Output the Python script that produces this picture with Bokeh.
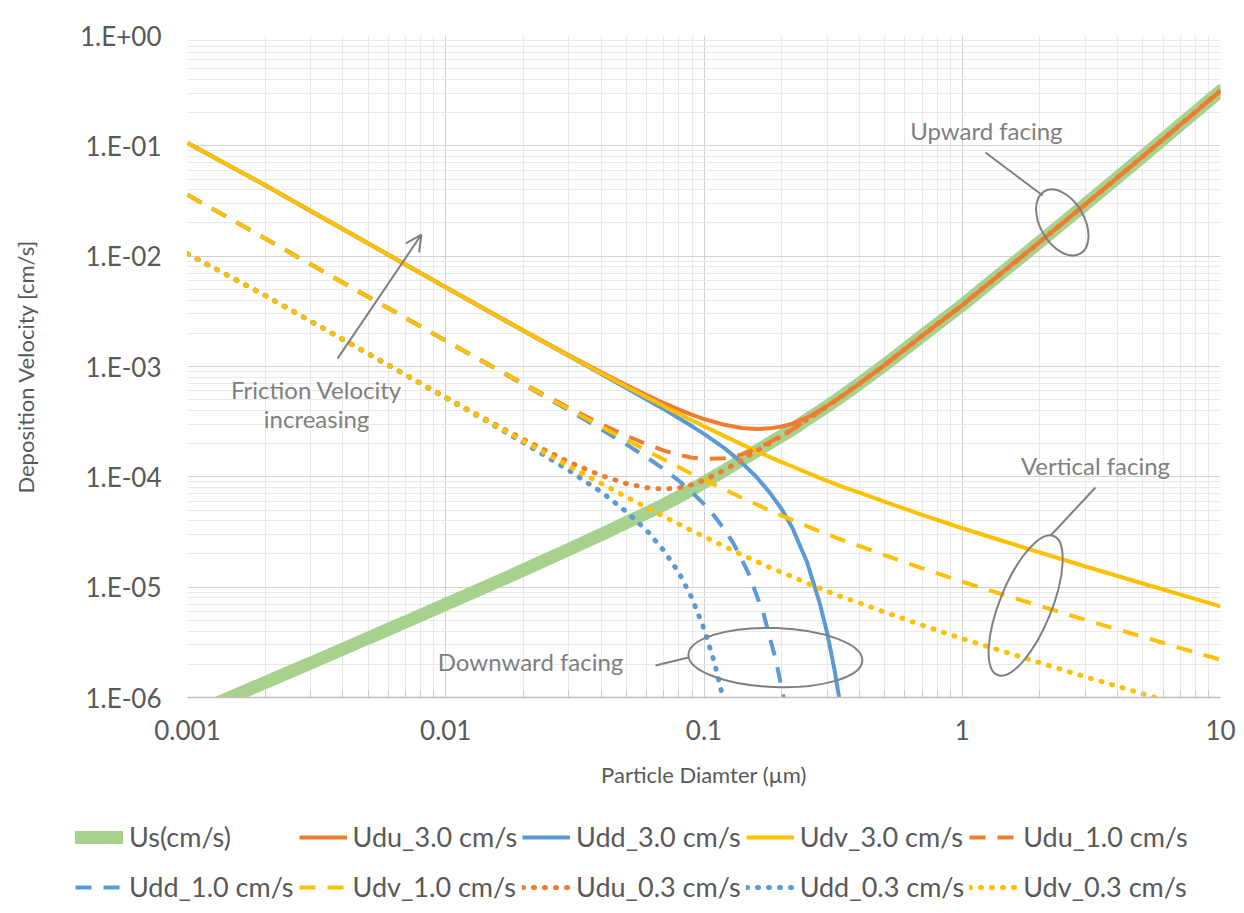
from bokeh.plotting import figure
from bokeh.layouts import column, row
from bokeh.models import (Range1d, FixedTicker, Legend, LegendItem, Label, Arrow,
                          OpenHead)
from bokeh.embed import file_html
from bokeh.resources import INLINE

# ---------------- data ----------------
d_um = [0.001, 0.002, 0.003, 0.005, 0.007, 0.01, 0.015, 0.02, 0.03, 0.04, 0.05, 0.06,
        0.07, 0.08, 0.09, 0.1, 0.12, 0.14, 0.16, 0.18, 0.2, 0.22, 0.25, 0.28, 0.3, 0.35,
        0.4, 0.5, 0.7, 1, 1.5, 2, 3, 5, 7, 10]

us = [6.8e-7, 1.37e-6, 2.05e-6, 3.45e-6, 4.85e-6, 7.0e-6, 1.06e-5, 1.43e-5, 2.2e-5, 3.0e-5,
      3.85e-5, 4.7e-5, 5.6e-5, 6.6e-5, 7.7e-5, 8.9e-5, 1.14e-4, 1.42e-4, 1.72e-4, 2.03e-4,
      2.35e-4, 2.69e-4, 3.3e-4, 3.92e-4, 4.35e-4, 5.6e-4, 7.0e-4, 1.03e-3, 1.9e-3, 3.6e-3,
      7.8e-3, 0.0135, 0.0295, 0.080, 0.156, 0.315]

udu_30 = [0.106, 0.0440, 0.0257, 0.0131, 8.38e-3, 5.24e-3, 3.08e-3, 2.117e-3, 1.264e-3, 8.85e-4,
          6.78e-4, 5.50e-4, 4.65e-4, 4.06e-4, 3.64e-4, 3.34e-4, 2.96e-4, 2.77e-4, 2.71e-4, 2.75e-4,
          2.86e-4, 3.03e-4, 3.44e-4, 3.99e-4, 4.39e-4, 5.6e-4, 7.0e-4, 1.03e-3, 1.9e-3, 3.6e-3,
          7.8e-3, 0.0135, 0.0295, 0.080, 0.156, 0.315]

udv_30 = [0.106, 0.0440, 0.0257, 0.0131, 8.37e-3, 5.23e-3, 3.07e-3, 2.11e-3, 1.25e-3, 8.70e-4,
          6.58e-4, 5.26e-4, 4.36e-4, 3.72e-4, 3.24e-4, 2.87e-4, 2.34e-4, 1.97e-4, 1.71e-4, 1.51e-4,
          1.36e-4, 1.24e-4, 1.09e-4, 9.8e-5, 9.2e-5, 8.0e-5, 7.2e-5, 5.95e-5, 4.52e-5, 3.42e-5,
          2.54e-5, 2.06e-5, 1.54e-5, 1.08e-5, 8.55e-6, 6.7e-6]

udu_10 = [0.0360, 0.01444, 8.43e-3, 4.28e-3, 2.75e-3, 1.714e-3, 1.015e-3, 7.0e-4, 4.22e-4, 3.0e-4,
          2.36e-4, 1.976e-4, 1.728e-4, 1.58e-4, 1.491e-4, 1.456e-4, 1.472e-4, 1.598e-4, 1.804e-4,
          2.064e-4, 2.362e-4, 2.69e-4, 3.3e-4, 3.92e-4, 4.35e-4, 5.6e-4, 7.0e-4, 1.03e-3, 1.9e-3,
          3.6e-3, 7.8e-3, 0.0135, 0.0295, 0.080, 0.156, 0.315]

udv_10 = [0.0360, 0.01444, 8.43e-3, 4.28e-3, 2.75e-3, 1.71e-3, 1.01e-3, 6.93e-4, 4.11e-4, 2.85e-4,
          2.16e-4, 1.73e-4, 1.43e-4, 1.22e-4, 1.06e-4, 9.42e-5, 7.66e-5, 6.47e-5, 5.61e-5, 4.96e-5,
          4.45e-5, 4.05e-5, 3.58e-5, 3.21e-5, 3.01e-5, 2.63e-5, 2.36e-5, 1.95e-5, 1.48e-5, 1.12e-5,
          8.3e-6, 6.75e-6, 5.05e-6, 3.55e-6, 2.8e-6, 2.2e-6]

udu_03 = [0.0105, 4.40e-3, 2.57e-3, 1.313e-3, 8.39e-4, 5.265e-4, 3.123e-4, 2.182e-4, 1.363e-4,
          1.028e-4, 8.69e-5, 7.96e-5, 7.74e-5, 7.95e-5, 8.49e-5, 9.32e-5, 1.149e-4, 1.42e-4,
          1.72e-4, 2.03e-4, 2.35e-4, 2.69e-4, 3.3e-4, 3.92e-4, 4.35e-4, 5.6e-4, 7.0e-4, 1.03e-3,
          1.9e-3, 3.6e-3, 7.8e-3, 0.0135, 0.0295, 0.080, 0.156, 0.315]

udv_03 = [0.0105, 4.40e-3, 2.57e-3, 1.31e-3, 8.37e-4, 5.23e-4, 3.07e-4, 2.11e-4, 1.25e-4, 8.7e-5,
          6.58e-5, 5.26e-5, 4.36e-5, 3.72e-5, 3.24e-5, 2.87e-5, 2.34e-5, 1.97e-5, 1.71e-5, 1.51e-5,
          1.36e-5, 1.24e-5, 1.09e-5, 9.8e-6, 9.2e-6, 8.0e-6, 7.2e-6, 5.95e-6, 4.52e-6, 3.42e-6,
          2.54e-6, 2.06e-6, 1.54e-6, 1.08e-6, 8.55e-7, 6.7e-7]

d_dd30 = [0.001, 0.002, 0.003, 0.005, 0.007, 0.01, 0.015, 0.02, 0.03, 0.04, 0.05, 0.06, 0.07,
          0.08, 0.09, 0.1, 0.12, 0.14, 0.16, 0.18, 0.2, 0.22, 0.25, 0.28, 0.3, 0.32, 0.34, 0.36]
udd_30 = [0.106, 0.0440, 0.0257, 0.0131, 8.36e-3, 5.22e-3, 3.06e-3, 2.103e-3, 1.242e-3, 8.55e-4,
          6.39e-4, 5.03e-4, 4.09e-4, 3.40e-4, 2.87e-4, 2.45e-4, 1.82e-4, 1.345e-4, 9.92e-5,
          7.16e-5, 5.08e-5, 3.44e-5, 1.71e-5, 7.30e-6, 3.84e-6, 1.79e-6, 7.7e-7, 3.0e-7]

d_dd10 = [0.001, 0.002, 0.003, 0.005, 0.007, 0.01, 0.015, 0.02, 0.03, 0.04, 0.05, 0.06, 0.07,
          0.08, 0.09, 0.1, 0.11, 0.12, 0.13, 0.14, 0.15, 0.16, 0.17, 0.18, 0.19, 0.2, 0.21, 0.22]
udd_10 = [0.0360, 0.01444, 8.43e-3, 4.28e-3, 2.75e-3, 1.71e-3, 1.005e-3, 6.86e-4, 4.00e-4,
          2.70e-4, 1.97e-4, 1.505e-4, 1.168e-4, 9.20e-5, 7.21e-5, 5.66e-5, 4.37e-5, 3.33e-5,
          2.49e-5, 1.78e-5, 1.28e-5, 8.41e-6, 5.76e-6, 3.45e-6, 2.18e-6, 1.20e-6, 6.8e-7, 3.5e-7]

d_dd03 = [0.001, 0.002, 0.003, 0.005, 0.007, 0.01, 0.015, 0.02, 0.03, 0.04, 0.05, 0.06, 0.07,
          0.08, 0.09, 0.1, 0.11, 0.12, 0.13]
udd_03 = [0.0105, 4.40e-3, 2.57e-3, 1.307e-3, 8.33e-4, 5.195e-4, 3.017e-4, 2.039e-4, 1.143e-4,
          7.29e-5, 4.84e-5, 3.26e-5, 2.14e-5, 1.348e-5, 7.88e-6, 4.19e-6, 2.03e-6, 8.8e-7, 3.4e-7]

series_names = ["Us(cm/s)", "Udu_3.0 cm/s", "Udd_3.0 cm/s", "Udv_3.0 cm/s", "Udu_1.0 cm/s",
                "Udd_1.0 cm/s", "Udv_1.0 cm/s", "Udu_0.3 cm/s", "Udd_0.3 cm/s", "Udv_0.3 cm/s"]

x_tick_values = [0.001, 0.01, 0.1, 1, 10]
x_tick_labels = ["0.001", "0.01", "0.1", "1", "10"]
y_tick_values = [1e-6, 1e-5, 1e-4, 1e-3, 1e-2, 1e-1, 1.0]
y_tick_labels = ["1.E-06", "1.E-05", "1.E-04", "1.E-03", "1.E-02", "1.E-01", "1.E+00"]

x_title = "Particle Diamter (µm)"
y_title = "Deposition Velocity [cm/s]"

# ---------------- styling ----------------
FONT = "Lato"
GREEN = "#A9D18E"
ORANGE = "#ED7D31"
BLUE = "#5B9BD5"
GOLD = "#FFC000"
GREY = "#808080"
TXT = "#595959"
DASH = "16 12"
DOT = "1 10"
LW = 4

styles = [
    dict(line_color=GREEN, line_width=13, line_cap="round"),
    dict(line_color=ORANGE, line_width=LW),
    dict(line_color=BLUE, line_width=LW),
    dict(line_color=GOLD, line_width=LW),
    dict(line_color=ORANGE, line_width=LW, line_dash=DASH),
    dict(line_color=BLUE, line_width=LW, line_dash=DASH),
    dict(line_color=GOLD, line_width=LW, line_dash=DASH),
    dict(line_color=ORANGE, line_width=5, line_dash=DOT, line_cap="round"),
    dict(line_color=BLUE, line_width=5, line_dash=DOT, line_cap="round"),
    dict(line_color=GOLD, line_width=5, line_dash=DOT, line_cap="round"),
]

p = figure(width=1240, height=810, x_axis_type="log", y_axis_type="log",
           x_range=Range1d(0.001, 10), y_range=Range1d(1e-6, 1),
           output_backend="svg", toolbar_location=None,
           min_border_left=187, min_border_right=20, min_border_top=35, min_border_bottom=113)
p.outline_line_color = None
p.background_fill_color = "white"
p.border_fill_color = "white"

x_minor = [k * dec for dec in [0.001, 0.01, 0.1, 1] for k in range(2, 10)]
y_minor = [k * dec for dec in [1e-6, 1e-5, 1e-4, 1e-3, 1e-2, 1e-1] for k in range(2, 10)]

p.xaxis.ticker = FixedTicker(ticks=x_tick_values, minor_ticks=x_minor)
p.yaxis.ticker = FixedTicker(ticks=y_tick_values, minor_ticks=y_minor)
p.xgrid.ticker = FixedTicker(ticks=x_tick_values, minor_ticks=x_minor)
p.ygrid.ticker = FixedTicker(ticks=y_tick_values, minor_ticks=y_minor)
for g in (p.xgrid, p.ygrid):
    g.grid_line_color = "#d0d0d0"
    g.grid_line_width = 1
    g.minor_grid_line_color = "#e9e9e9"
    g.minor_grid_line_width = 1

p.xaxis.major_label_overrides = dict(zip(x_tick_values, x_tick_labels))
p.yaxis.major_label_overrides = dict(zip(y_tick_values, y_tick_labels))

for ax in (p.xaxis, p.yaxis):
    ax.major_label_text_font = FONT
    ax.major_label_text_font_size = "26px"
    ax.major_label_text_color = TXT
    ax.axis_label_text_font = FONT
    ax.axis_label_text_font_size = "22px"
    ax.axis_label_text_font_style = "normal"
    ax.axis_label_text_color = TXT
    ax.major_tick_in = 0
    ax.major_tick_out = 0

p.xaxis.axis_label = x_title
p.yaxis.axis_label = y_title
p.xaxis.axis_line_color = "#bfbfbf"
p.xaxis.axis_line_width = 1.5
p.xaxis.minor_tick_in = 7
p.xaxis.minor_tick_out = 0
p.xaxis.minor_tick_line_color = "#c8c8c8"
p.xaxis.major_label_standoff = 22
p.xaxis.axis_label_standoff = 18
p.yaxis.axis_line_color = None
p.yaxis.minor_tick_line_color = None
p.yaxis.major_tick_line_color = None
p.yaxis.major_label_standoff = 22
p.yaxis.axis_label_standoff = 38

# ---------------- series ----------------
series = [(d_um, us), (d_um, udu_30), (d_dd30, udd_30), (d_um, udv_30),
          (d_um, udu_10), (d_dd10, udd_10), (d_um, udv_10),
          (d_um, udu_03), (d_dd03, udd_03), (d_um, udv_03)]
for (xs, ys), st in zip(series, styles):
    p.line(xs, ys, **st)

# ---------------- annotations ----------------
def label(x, y, text):
    p.add_layout(Label(x=x, y=y, text=text, text_font=FONT, text_font_size="24px",
                       text_color="#7f7f7f", text_align="center", text_baseline="middle"))

def leader(x0, y0, x1, y1, head=None):
    p.add_layout(Arrow(x_start=x0, y_start=y0, x_end=x1, y_end=y1, end=head,
                       line_color=GREY, line_width=2))

label(1.24, 0.138, "Upward facing")
leader(1.23, 0.087, 2.05, 0.0355)
p.ellipse(x=[2.44], y=[0.0202], width=[72], height=[44], angle=[-1.047],
          width_units="screen", height_units="screen",
          fill_color=None, line_color=GREY, line_width=2)

label(3.28, 1.27e-4, "Vertical facing")
leader(3.28, 8.0e-5, 2.20, 2.94e-5)
p.ellipse(x=[1.76], y=[6.82e-6], width=[150], height=[52], angle=[1.187],
          width_units="screen", height_units="screen",
          fill_color=None, line_color=GREY, line_width=2)

label(0.0213, 2.12e-6, "Downward facing")
leader(0.0649, 1.95e-6, 0.0871, 2.30e-6)
p.ellipse(x=[0.189], y=[2.30e-6], width=[174], height=[59], angle=[-0.035],
          width_units="screen", height_units="screen",
          fill_color=None, line_color=GREY, line_width=2)

label(0.00316, 6.18e-4, "Friction Velocity")
label(0.00316, 3.38e-4, "increasing")
leader(0.00381, 1.18e-3, 0.00805, 0.0157,
       head=OpenHead(size=16, line_color=GREY, line_width=2))

# ---------------- legend strip below the plot ----------------
leg = figure(width=1240, height=100, x_range=Range1d(0, 1), y_range=Range1d(0, 1),
             x_axis_location=None, y_axis_location=None, toolbar_location=None,
             output_backend="svg", min_border=0)
leg.grid.visible = False
leg.outline_line_color = None
leg.background_fill_color = "white"
leg.border_fill_color = "white"
# key renderers: same styles, their single segment lies outside the strip's visible range
leg_renderers = [leg.line(x=[5, 6], y=[5, 6], **st) for st in styles]
items = [LegendItem(label=n, renderers=[r]) for n, r in zip(series_names, leg_renderers)]
legend = Legend(items=items, location=(75, 1), orientation="horizontal", ncols=5,
                glyph_width=48, glyph_height=20, label_standoff=6, spacing=5,
                padding=0, margin=0, label_height=45,
                label_text_font=FONT, label_text_font_size="27px", label_text_color=TXT,
                background_fill_alpha=0, border_line_color=None)
leg.add_layout(legend)

layout = column(p, row(leg), spacing=0)
open("out.html", "w").write(file_html(layout, INLINE))
